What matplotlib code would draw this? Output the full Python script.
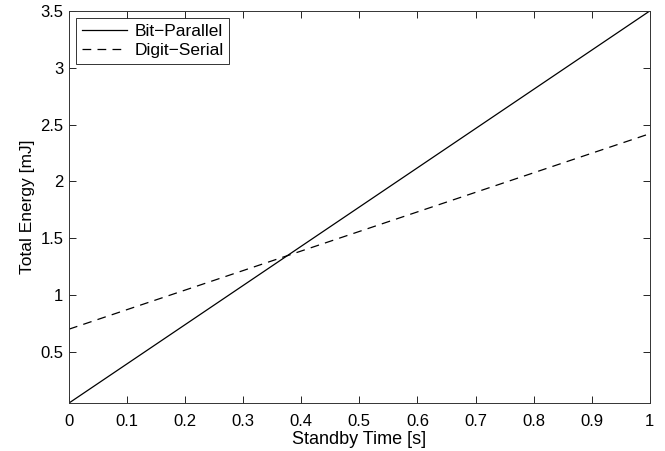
import numpy as np
import matplotlib.pyplot as plt

plt.rcParams['font.family'] = ['Liberation Sans', 'DejaVu Sans']
plt.rcParams['font.size'] = 12.5

# standby time [s] and total energy [mJ] at both ends of each line
standby_time = [0.0, 1.0]
bit_parallel = [0.05, 3.5]
digit_serial = [0.70, 2.42]

x_ticks = [0, 0.1, 0.2, 0.3, 0.4, 0.5, 0.6, 0.7, 0.8, 0.9, 1]
y_ticks = [0.5, 1, 1.5, 2, 2.5, 3, 3.5]

fig = plt.figure(figsize=(6.65, 4.51), dpi=100)
ax = fig.add_axes([0.1038, 0.1064, 0.8732, 0.8692])

ax.plot(standby_time, bit_parallel, color='black', lw=0.9, label='Bit\u2212Parallel')
ax.plot(standby_time, digit_serial, color='black', lw=0.9, dashes=(7, 5), label='Digit\u2212Serial')

ax.set_xlim(0, 1)
ax.set_ylim(0.05, 3.5)
ax.set_xticks(x_ticks)
ax.set_xticklabels(['0', '0.1', '0.2', '0.3', '0.4', '0.5', '0.6', '0.7', '0.8', '0.9', '1'])
ax.set_yticks(y_ticks)
ax.set_yticklabels(['0.5', '1', '1.5', '2', '2.5', '3', '3.5'])
ax.tick_params(direction='in', top=True, right=True, length=5, width=0.6, labelsize=12)
ax.tick_params(axis='x', pad=8)
ax.tick_params(axis='y', pad=4)
for s in ax.spines.values():
    s.set_linewidth(0.7)
    s.set_color('#333333')

ax.set_xlabel('Standby Time [s]', fontsize=13, labelpad=1)
ax.set_ylabel('Total Energy [mJ]', fontsize=12.5, labelpad=4)

leg = ax.legend(loc='upper left', fancybox=False, edgecolor='black',
                handlelength=2.6, borderaxespad=0.4, borderpad=0.35,
                labelspacing=0.22, handletextpad=0.4, fontsize=12.5)
leg.get_frame().set_linewidth(0.7)

fig.savefig('out.png', dpi=100)
